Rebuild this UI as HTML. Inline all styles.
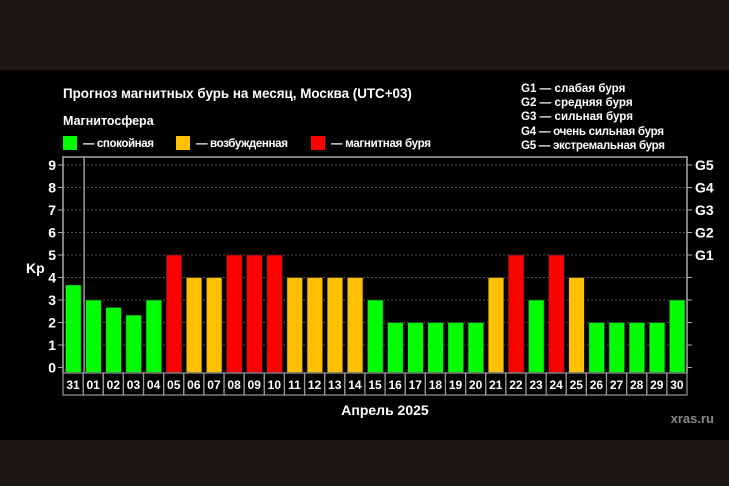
<!DOCTYPE html>
<html><head><meta charset="utf-8"><style>
html,body{margin:0;padding:0;background:#1b1713;}
svg{display:block;font-family:"Liberation Sans",Arial,sans-serif;font-weight:bold;}
</style></head><body>
<svg width="729" height="486" viewBox="0 0 729 486" xmlns="http://www.w3.org/2000/svg">
<rect x="0" y="0" width="729" height="486" fill="#1b1713"/>
<rect x="0" y="70" width="729" height="370" fill="#000"/>
<text x="63" y="98" fill="#fff" font-size="13.4">Прогноз магнитных бурь на месяц, Москва (UTC+03)</text>
<text x="63" y="125" fill="#fff" font-size="12.5">Магнитосфера</text>
<rect x="63" y="136" width="14" height="14" fill="#00ff00"/>
<text x="83" y="147" fill="#fff" font-size="11.6" textLength="71">— спокойная</text>
<rect x="176" y="136" width="14" height="14" fill="#ffc000"/>
<text x="196" y="147" fill="#fff" font-size="11.6" textLength="92">— возбужденная</text>
<rect x="311" y="136" width="14" height="14" fill="#ff0000"/>
<text x="331" y="147" fill="#fff" font-size="11.6" textLength="100">— магнитная буря</text>
<g fill="#fff" font-size="11.6">
<text x="521" y="92">G1 — слабая буря</text>
<text x="521" y="106">G2 — средняя буря</text>
<text x="521" y="120">G3 — сильная буря</text>
<text x="521" y="135" textLength="143">G4 — очень сильная буря</text>
<text x="521" y="149" textLength="144">G5 — экстремальная буря</text>
</g>
<g id="plot"></g>
<text x="26" y="273" fill="#fff" font-size="14">Kp</text>
<text x="385" y="415" fill="#fff" font-size="14" text-anchor="middle">Апрель 2025</text>
<text x="714" y="423" fill="#888" font-size="13" text-anchor="end">xras.ru</text>
<script>
var ns="http://www.w3.org/2000/svg",g=document.getElementById("plot");
function el(t,a,txt){var e=document.createElementNS(ns,t);for(var k in a)e.setAttribute(k,a[k]);if(txt)e.textContent=txt;g.appendChild(e);return e;}
var y0=367.5,s=22.5,L=63,R=687,T=157,W=(R-L)/31;
for(var i=1;i<=9;i++){el("line",{x1:L,x2:R,y1:y0-i*s,y2:y0-i*s,stroke:"#555","stroke-dasharray":"2,2","stroke-width":1});}
var v=[3.67,3,2.67,2.33,3,5,4,4,5,5,5,4,4,4,4,3,2,2,2,2,2,4,5,3,5,4,2,2,2,2,3];
var labs=["31"];for(var d=1;d<=30;d++)labs.push((d<10?"0":"")+d);
for(var i=0;i<31;i++){var x=L+i*W,val=v[i];var c=val>=5?"#ff0000":val>=4?"#ffc000":"#00ff00";
el("rect",{x:x+2.5,y:y0-val*s,width:W-4.5,height:val*s+5,fill:c,stroke:"#222","stroke-width":0.6});
el("rect",{x:x,y:373,width:W,height:22,fill:"none",stroke:"#999","stroke-width":1.2});
el("text",{x:x+W/2,y:389,fill:"#fff","font-size":"12","text-anchor":"middle"},labs[i]);}
el("line",{x1:L+W+1,x2:L+W+1,y1:T,y2:373,stroke:"#999","stroke-width":1.5});
el("polyline",{points:L+","+373+" "+L+","+T+" "+R+","+T+" "+R+","+373,fill:"none",stroke:"#aaa","stroke-width":1.5});
for(var i=0;i<=9;i++){var y=y0-i*s;el("line",{x1:L-5,x2:L,y1:y,y2:y,stroke:"#aaa"});el("text",{x:L-7,y:y+5,fill:"#fff","font-size":"14","text-anchor":"end"},""+i);
el("line",{x1:R,x2:R+5,y1:y,y2:y,stroke:"#aaa"});if(i>=5)el("text",{x:R+8,y:y+5,fill:"#fff","font-size":"14"},"G"+(i-4));}
</script>
</svg>
</body></html>
